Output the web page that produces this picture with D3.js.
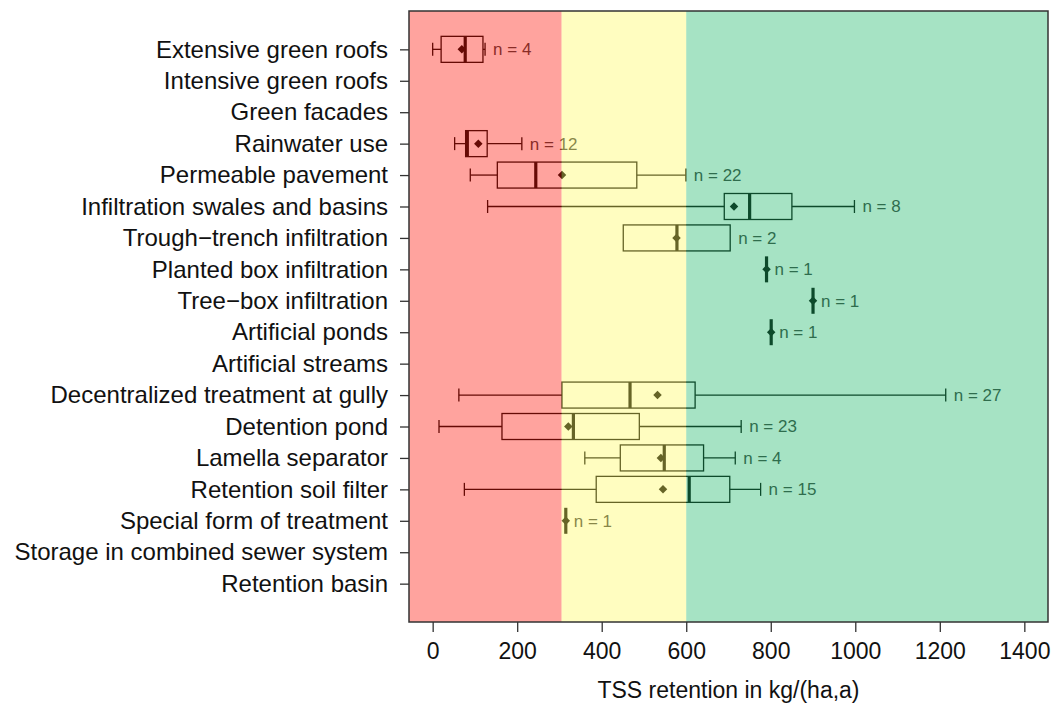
<!DOCTYPE html>
<html>
<head>
<meta charset="utf-8">
<script src="https://cdn.jsdelivr.net/npm/d3@7"></script>
<style>
  body { margin: 0; background: #fff; }
  svg { font-family: "Liberation Sans", Arial, sans-serif; }
</style>
</head>
<body>
<svg width="1054" height="707"></svg>
<script>
// categories, top to bottom
var categories = [
    'Extensive green roofs', 'Intensive green roofs', 'Green facades', 'Rainwater use',
    'Permeable pavement', 'Infiltration swales and basins', 'Trough\u2212trench infiltration',
    'Planted box infiltration', 'Tree\u2212box infiltration', 'Artificial ponds',
    'Artificial streams', 'Decentralized treatment at gully', 'Detention pond',
    'Lamella separator', 'Retention soil filter', 'Special form of treatment',
    'Storage in combined sewer system', 'Retention basin'
];

// box statistics (null = no data)
var whiskerLow  = [0, null, null, 52, 89, 130, 451, 790, 900, 801, null, 62, 15, 360, 75, 315, null, null];
var q1          = [20, null, null, 78, 153, 690, 451, 790, 900, 801, null, 306, 164, 444, 387, 315, null, null];
var median      = [77, null, null, 82, 244, 750, 578, 790, 900, 801, null, 467, 333, 548, 607, 315, null, null];
var q3          = [119, null, null, 129, 483, 850, 704, 790, 900, 801, null, 621, 489, 641, 703, 315, null, null];
var whiskerHigh = [124, null, null, 211, 599, 998, 704, 790, 900, 801, null, 1214, 730, 716, 776, 315, null, null];
var means       = [69, null, null, 108, 306, 713, 577, 790, 900, 801, null, 532, 321, 540, 545, 315, null, null];
var counts      = [4, null, null, 12, 22, 8, 2, 1, 1, 1, null, 27, 23, 4, 15, 1, null, null];

// rating bands
var bandEdges = [-56, 305, 600, 1456];
var bandColors = ['#ff1a0d', '#fffa61', '#20b96b'];

var xTicks = [0, 200, 400, 600, 800, 1000, 1200, 1400];

var svg = d3.select('svg');
var margin = { left: 409, right: 1048, top: 11, bottom: 622 };

var x = d3.scaleLinear().domain([-56, 1456]).range([margin.left, margin.right]);
var y = d3.scalePoint().domain(categories).range([margin.top, margin.bottom]).padding(1.22);
var boxH = 26;

var rows = categories.map(function(c, i) {
    return {
        cat: c, lo: whiskerLow[i], q1: q1[i], med: median[i], q3: q3[i],
        hi: whiskerHigh[i], mean: means[i], n: counts[i]
    };
}).filter(function(d) { return d.n !== null; });

var g = svg.append('g');

// boxes
rows.forEach(function(d) {
    var cy = y(d.cat);
    var row = g.append('g').attr('stroke', '#000').attr('fill', 'none');

    if (d.lo < d.q1) {
        row.append('line').attr('x1', x(d.lo)).attr('x2', x(d.q1))
            .attr('y1', cy).attr('y2', cy).attr('stroke-width', 1.3);
        row.append('line').attr('x1', x(d.lo)).attr('x2', x(d.lo))
            .attr('y1', cy - boxH / 4).attr('y2', cy + boxH / 4).attr('stroke-width', 1.3);
    }
    if (d.hi > d.q3) {
        row.append('line').attr('x1', x(d.q3)).attr('x2', x(d.hi))
            .attr('y1', cy).attr('y2', cy).attr('stroke-width', 1.3);
        row.append('line').attr('x1', x(d.hi)).attr('x2', x(d.hi))
            .attr('y1', cy - boxH / 4).attr('y2', cy + boxH / 4).attr('stroke-width', 1.3);
    }
    if (d.q3 > d.q1) {
        row.append('rect').attr('x', x(d.q1)).attr('y', cy - boxH / 2)
            .attr('width', x(d.q3) - x(d.q1)).attr('height', boxH)
            .attr('stroke-width', 1.3);
    }
    // median
    row.append('line').attr('x1', x(d.med)).attr('x2', x(d.med))
        .attr('y1', cy - boxH / 2).attr('y2', cy + boxH / 2).attr('stroke-width', 3.2);
    // mean
    row.append('path')
        .attr('d', d3.symbol().type(d3.symbolDiamond2).size(46)())
        .attr('transform', 'translate(' + x(d.mean) + ',' + cy + ')')
        .attr('fill', '#000').attr('stroke', 'none');
    // count
    g.append('text')
        .attr('x', x(d.hi) + 8).attr('y', cy).attr('dy', '0.35em')
        .attr('font-size', 17).attr('fill', '#3a3a3a')
        .text('n = ' + d.n);
});

// translucent rating bands drawn over the boxes
g.selectAll('.band')
    .data(bandColors)
    .enter().append('rect')
    .attr('class', 'band')
    .attr('x', function(d, i) { return x(bandEdges[i]); })
    .attr('width', function(d, i) { return x(bandEdges[i + 1]) - x(bandEdges[i]); })
    .attr('y', margin.top)
    .attr('height', margin.bottom - margin.top)
    .attr('fill', function(d) { return d; })
    .attr('opacity', 0.4);

// plot frame
svg.append('rect')
    .attr('x', margin.left).attr('y', margin.top)
    .attr('width', margin.right - margin.left).attr('height', margin.bottom - margin.top)
    .attr('fill', 'none').attr('stroke', '#333').attr('stroke-width', 1.5);

// y axis
var yAxis = svg.append('g')
    .attr('transform', 'translate(' + margin.left + ',0)')
    .call(d3.axisLeft(y).tickSize(9).tickPadding(12));
yAxis.select('.domain').remove();
yAxis.selectAll('line').attr('stroke', '#333').attr('stroke-width', 1.3);
yAxis.selectAll('text').attr('font-size', 24).attr('fill', '#111')
    .attr('font-family', '"Liberation Sans", Arial, sans-serif');

// x axis
var xAxis = svg.append('g')
    .attr('transform', 'translate(0,' + margin.bottom + ')')
    .call(d3.axisBottom(x).tickValues(xTicks).tickSize(10).tickPadding(11).tickFormat(d3.format('d')));
xAxis.select('.domain').remove();
xAxis.selectAll('line').attr('stroke', '#333').attr('stroke-width', 1.3);
xAxis.selectAll('text').attr('font-size', 23).attr('fill', '#111')
    .attr('font-family', '"Liberation Sans", Arial, sans-serif');

// x title
svg.append('text')
    .attr('x', (x(0) + x(1400)) / 2).attr('y', 698)
    .attr('text-anchor', 'middle')
    .attr('font-size', 23).attr('fill', '#111')
    .text('TSS retention in kg/(ha,a)');
</script>
</body>
</html>
